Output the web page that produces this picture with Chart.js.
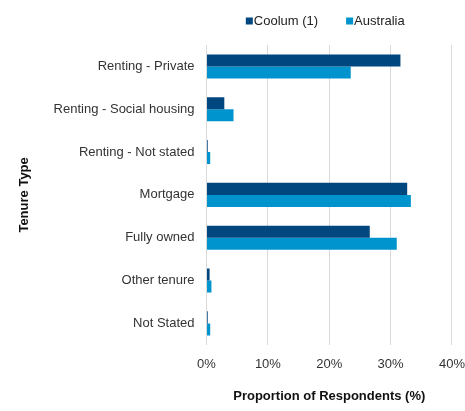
<!DOCTYPE html>
<html>
<head>
<meta charset="utf-8">
<script src="https://cdn.jsdelivr.net/npm/chart.js@4.4.1/dist/chart.umd.min.js"></script>
<style>
  html, body { margin: 0; padding: 0; background: #fff; }
  #wrap { width: 465px; height: 411px; }
</style>
</head>
<body>
<div id="wrap"><canvas id="tenureChart" width="465" height="411"></canvas></div>
<script>
// Tenure type, Coolum vs Australia (%)
const categories = ['Renting - Private', 'Renting - Social housing', 'Renting - Not stated', 'Mortgage', 'Fully owned', 'Other tenure', 'Not Stated'];
const coolum = [31.6, 2.9, 0.2, 32.7, 26.6, 0.5, 0.2];
const australia = [23.5, 4.4, 0.6, 33.3, 31.0, 0.8, 0.6];
const seriesNames = ['Coolum (1)', 'Australia'];
const xTicks = [0, 10, 20, 30, 40];

const FONT = '"Liberation Sans", Arial, sans-serif';
Chart.defaults.font.family = FONT;
Chart.defaults.font.size = 13;
Chart.defaults.color = '#333';

// small square-marker legend centred over the plot
const topLegend = {
  id: 'topLegend',
  afterDraw(chart) {
    const ctx = chart.ctx;
    const box = 7, gap = 1, itemGap = 28;
    ctx.save();
    ctx.font = '13px ' + FONT;
    ctx.textBaseline = 'middle';
    const items = chart.data.datasets.map(ds => ({
      label: ds.label, color: ds.backgroundColor, w: box + gap + ctx.measureText(ds.label).width
    }));
    const total = items.reduce((s, it) => s + it.w, 0) + itemGap * (items.length - 1);
    const area = chart.chartArea;
    let x = (area.left + area.right) / 2 - total / 2 - 4;
    const y = 21;
    items.forEach(it => {
      ctx.fillStyle = it.color;
      ctx.fillRect(x, y - box / 2, box, box);
      ctx.fillStyle = '#222';
      ctx.fillText(it.label, x + box + gap, y);
      x += it.w + itemGap;
    });
    ctx.restore();
  }
};

new Chart(document.getElementById('tenureChart'), {
  type: 'bar',
  data: {
    labels: categories,
    datasets: [
      { label: seriesNames[0], data: coolum, backgroundColor: '#00467F' },
      { label: seriesNames[1], data: australia, backgroundColor: '#0094CE' }
    ]
  },
  options: {
    indexAxis: 'y',
    responsive: false,
    animation: false,
    categoryPercentage: 0.562,
    barPercentage: 1,
    layout: { padding: { top: 45, left: 10, right: 0, bottom: 3 } },
    plugins: {
      legend: { display: false },
      tooltip: { enabled: false }
    },
    scales: {
      x: {
        min: 0,
        max: 40,
        afterBuildTicks(axis) {
          axis.ticks = xTicks.map(v => ({ value: v }));
        },
        // invisible tick marks give the label gap without widening the side padding
        grid: { color: '#D9D9D9', drawTicks: true, tickLength: 12, tickColor: 'rgba(0,0,0,0)' },
        border: { display: false },
        ticks: { padding: 0, color: '#333', callback: v => v + '%' },
        title: {
          display: true,
          text: 'Proportion of Respondents (%)',
          color: '#111',
          font: { weight: 'bold', size: 13 },
          padding: { top: 16, bottom: 4 }
        }
      },
      y: {
        grid: { display: false, drawTicks: false, tickLength: 0 },
        border: { display: false },
        ticks: { padding: 12, color: '#333' },
        title: {
          display: true,
          text: 'Tenure Type',
          color: '#111',
          font: { weight: 'bold', size: 13 },
          padding: { top: 7, bottom: 9 }
        }
      }
    }
  },
  plugins: [topLegend]
});
</script>
</body>
</html>
